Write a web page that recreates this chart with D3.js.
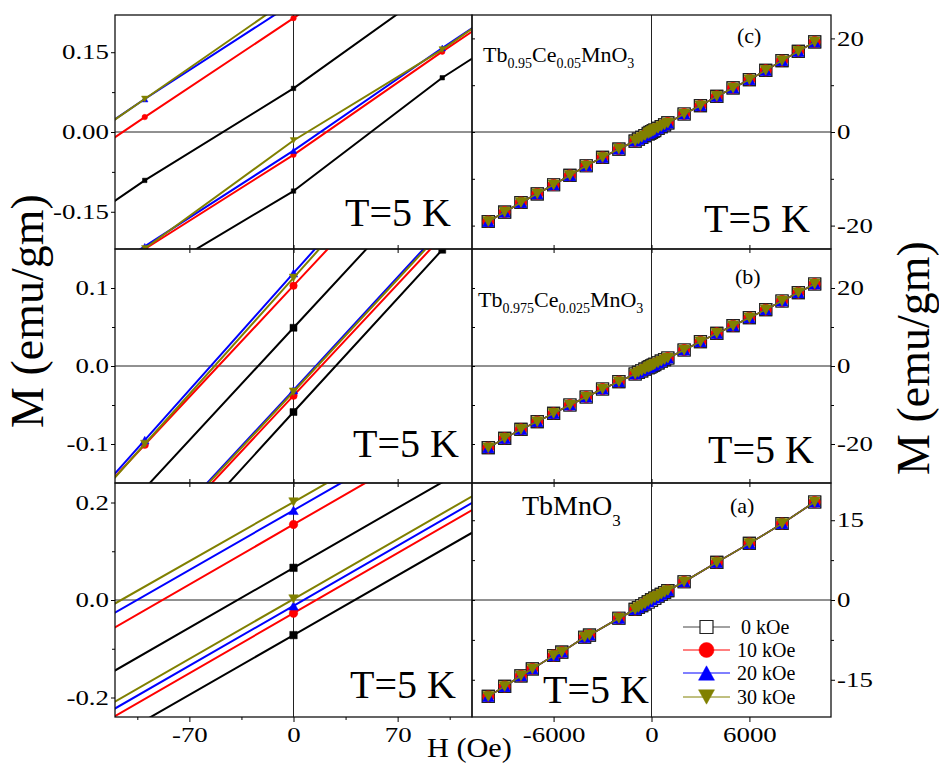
<!DOCTYPE html>
<html><head><meta charset="utf-8">
<script src="https://cdn.jsdelivr.net/npm/d3@7"></script>
<style>
body{margin:0;background:#fff;}
</style></head><body>
<svg id="chart" width="939" height="763" font-family="Liberation Serif"></svg>
<script>
// ---------- data ----------
const fields = ["0 kOe","10 kOe","20 kOe","30 kOe"];
const colors = ["#000000","#ff0000","#0000ff","#808000"];
const shapes = ["square","circle","triUp","triDown"];

// panel (c): Tb0.95Ce0.05MnO3  (outer = high/mid field points shared by both branches)
const c_outH = [-10000,-9000,-8000,-7000,-6000,-5000,-4000,-3000,-2000,-1000,-800,-600,-400,400,600,800,1000,2000,3000,4000,5000,6000,7000,8000,9000,10000];
const c_outM = [-19.12,-17.11,-15.06,-13.20,-11.27,-9.28,-7.21,-5.43,-3.64,-1.93,-1.54,-1.16,-0.77,0.77,1.16,1.54,1.93,3.85,5.63,7.62,9.41,11.19,13.18,15.25,17.24,19.25];
const c_loH = [-200,-100,0,100,200];
const c_up = [
  [-0.282,-0.091,0.082,0.282,0.480],
  [-0.162,0.028,0.214,0.410,0.600],
  [-0.128,0.062,0.243,0.440,0.630],
  [-0.130,0.062,0.256,0.450,0.640]];
const c_dn = [
  [-0.450,-0.278,-0.111,0.102,0.282],
  [-0.400,-0.220,-0.043,0.151,0.340],
  [-0.395,-0.215,-0.035,0.158,0.345],
  [-0.400,-0.219,-0.016,0.155,0.350]];

// panel (b): Tb0.975Ce0.025MnO3
const b_outH = [-10000,-9000,-8000,-7000,-6000,-5000,-4000,-3000,-2000,-1000,-800,-600,-400,400,600,800,1000,2000,3000,4000,5000,6000,7000,8000,9000,10000];
const b_outM = [-20.94,-18.55,-16.24,-14.27,-12.14,-10.00,-7.95,-5.90,-4.02,-2.05,-1.64,-1.23,-0.82,0.82,1.23,1.64,2.05,4.10,6.23,8.38,10.33,12.38,14.44,16.67,18.80,21.03];
const b_loH = [-200,-100,0,100,200];
const b_up = [
  [-0.360,-0.157,0.049,0.255,0.460],
  [-0.305,-0.101,0.103,0.307,0.510],
  [-0.309,-0.095,0.119,0.333,0.547],
  [-0.314,-0.100,0.113,0.326,0.540]];
const b_dn = [
  [-0.478,-0.268,-0.059,0.149,0.356],
  [-0.446,-0.242,-0.038,0.166,0.370],
  [-0.440,-0.236,-0.031,0.176,0.383],
  [-0.442,-0.238,-0.033,0.173,0.380]];

// panel (a): TbMnO3
const a_outH = [-10000,-9000,-8000,-7300,-6000,-5500,-4100,-3800,-2000,-1000,-800,-600,-400,400,600,800,1000,2000,4000,6000,8000,10000];
const a_outM = [-18.13,-16.26,-14.25,-12.94,-10.44,-9.81,-7.00,-6.60,-3.43,-1.78,-1.41,-1.06,-0.71,0.71,1.06,1.41,1.78,3.43,7.07,10.63,14.38,18.43];
const a_loH = [-200,0,200];
const a_up = [
  [-0.285,0.066,0.417],
  [-0.197,0.155,0.507],
  [-0.166,0.184,0.534],
  [-0.146,0.201,0.548]];
const a_dn = [
  [-0.422,-0.072,0.278],
  [-0.379,-0.027,0.325],
  [-0.363,-0.012,0.340],
  [-0.349,0.002,0.353]];

// axis ticks
const xLeftTicks = [-70,0,70];
const xLeftMinor = [-105,-35,35,105];
const xRightTicks = [-6000,0,6000];
const yLeftTicks_c = [-0.15,0,0.15], yLeftMinor_c = [-0.075,0.075];
const yLeftTicks_b = [-0.1,0,0.1],   yLeftMinor_b = [-0.05,0.05];
const yLeftTicks_a = [-0.2,0,0.2],   yLeftMinor_a = [-0.1,0.1];
const yRightTicks_c = [-20,0,20], yRightMinor_c = [-10,10];
const yRightTicks_b = [-20,0,20], yRightMinor_b = [-10,10];
const yRightTicks_a = [-15,0,15], yRightMinor_a = [-7.5,7.5];

// ---------- layout ----------
const FONT = "'Liberation Serif','Times New Roman',serif";
const svg = d3.select("#chart");
const rowTop = [15,249,483], rowH = 234;
const LX = [115,472], RX = [472,831];
const SX = 1.28; // horizontal stretch of tick labels
const xL = d3.scaleLinear().domain([-120,120]).range(LX);
const xR = d3.scaleLinear().domain([-11000,11000]).range(RX);

const panels = [
  {name:"c", outH:c_outH, outM:c_outM, loH:c_loH, up:c_up, dn:c_dn, yLdom:[-0.22,0.22], yRdom:[-25,25],
   yLt:yLeftTicks_c, yLm:yLeftMinor_c, yLf:v=>v.toFixed(2), yRt:yRightTicks_c, yRm:yRightMinor_c,
   msL:[4.5,5.5,6.5,6.5]},
  {name:"b", outH:b_outH, outM:b_outM, loH:b_loH, up:b_up, dn:b_dn, yLdom:[-0.15,0.15], yRdom:[-30,30],
   yLt:yLeftTicks_b, yLm:yLeftMinor_b, yLf:v=>v.toFixed(1), yRt:yRightTicks_b, yRm:yRightMinor_b,
   msL:[7,7.5,8.5,8.5]},
  {name:"a", outH:a_outH, outM:a_outM, loH:a_loH, up:a_up, dn:a_dn, yLdom:[-0.24,0.24], yRdom:[-22,22],
   yLt:yLeftTicks_a, yLm:yLeftMinor_a, yLf:v=>v.toFixed(1), yRt:yRightTicks_a, yRm:yRightMinor_a,
   msL:[7.5,8.5,9.5,9.5]}
];

function symPath(shape, s){
  const h = s/2;
  if(shape==="square") return `M${-h},${-h}H${h}V${h}H${-h}Z`;
  if(shape==="circle") return `M${h},0A${h},${h} 0 1,1 ${-h},0A${h},${h} 0 1,1 ${h},0Z`;
  const t = s*0.9;
  if(shape==="triUp") return `M0,${-t/2}L${h},${t/2}L${-h},${t/2}Z`;
  return `M0,${t/2}L${h},${-t/2}L${-h},${-t/2}Z`;
}

function loopPts(d,k){
  const lo0 = d.loH[0], lo1 = d.loH[d.loH.length-1];
  const out = d.outH.map((h,i)=>[h,d.outM[i]]);
  const neg = out.filter(p=>p[0]<lo0), pos = out.filter(p=>p[0]>lo1);
  const up = d.loH.map((h,i)=>[h,d.up[k][i]]);
  const dn = d.loH.map((h,i)=>[h,d.dn[k][i]]);
  return [...pos.slice().reverse(), ...up.slice().reverse(), ...neg.slice().reverse(),
          ...neg, ...dn, ...pos];
}

function stretchText(sel){
  sel.each(function(){
    const t = d3.select(this);
    const x = +(t.attr("x")||0);
    t.attr("transform",`translate(${x},0) scale(${SX},1) translate(${-x},0)`);
  });
}

function styleAxis(g){
  g.attr("font-family",null).attr("font-size",null);
  g.select(".domain").remove();
  g.selectAll("line").attr("stroke","#000").attr("stroke-width",1);
  g.selectAll("text").attr("font-size",21);
}

const defs = svg.append("defs");

panels.forEach((d,row)=>{
  const y0 = rowTop[row], y1 = y0+rowH;
  const yL = d3.scaleLinear().domain(d.yLdom).range([y1,y0]);
  const yR = d3.scaleLinear().domain(d.yRdom).range([y1,y0]);
  [["L",xL,yL,LX],["R",xR,yR,RX]].forEach(([side,x,y,X])=>{
    const cid = `clip${d.name}${side}`;
    defs.append("clipPath").attr("id",cid).append("rect")
      .attr("x",X[0]).attr("y",y0).attr("width",X[1]-X[0]).attr("height",rowH);
    const g = svg.append("g");
    g.append("line").attr("x1",x(0)).attr("x2",x(0)).attr("y1",y0).attr("y2",y1)
      .attr("stroke","#222").attr("stroke-width",1);
    g.append("line").attr("x1",X[0]).attr("x2",X[1]).attr("y1",y(0)).attr("y2",y(0))
      .attr("stroke","#222").attr("stroke-width",1);
    const gg = g.append("g").attr("clip-path",`url(#${cid})`);
    const line = d3.line().x(p=>x(p[0])).y(p=>y(p[1]));
    for(let k=0;k<4;k++){
      const pts = loopPts(d,k);
      gg.append("path").attr("d",line(pts)).attr("fill","none")
        .attr("stroke",colors[k]).attr("stroke-width",side==="L"?2:1.5)
        .attr("stroke-linejoin","round");
      const size = side==="L" ? d.msL[k] : [12,11,11,10.5][k];
      gg.append("g").selectAll("path").data(pts).join("path")
        .attr("transform",p=>`translate(${x(p[0])},${y(p[1])})`)
        .attr("d",symPath(shapes[k],size))
        .attr("fill", (k===0 && side==="R") ? "#fff" : colors[k])
        .attr("stroke", (k===0 && side==="R") ? "#222" : colors[k])
        .attr("stroke-width", (k===0 && side==="R") ? 1.2 : 0.5);
    }
    g.append("rect").attr("x",X[0]).attr("y",y0).attr("width",X[1]-X[0]).attr("height",rowH)
      .attr("fill","none").attr("stroke","#111").attr("stroke-width",1.3);
  });

  const gyl = svg.append("g").attr("transform",`translate(${LX[0]},0)`)
    .call(d3.axisLeft(yL).tickValues(d.yLt).tickFormat(d.yLf).tickSize(4).tickPadding(2));
  styleAxis(gyl); stretchText(gyl.selectAll("text"));
  const gylm = svg.append("g").attr("transform",`translate(${LX[0]},0)`)
    .call(d3.axisLeft(yL).tickValues(d.yLm).tickFormat("").tickSize(3));
  styleAxis(gylm); gylm.selectAll("text").remove();
  const gyr = svg.append("g").attr("transform",`translate(${RX[1]},0)`)
    .call(d3.axisRight(yR).tickValues(d.yRt).tickFormat(v=>String(v)).tickSize(4).tickPadding(2));
  styleAxis(gyr); stretchText(gyr.selectAll("text"));
  const gyrm = svg.append("g").attr("transform",`translate(${RX[1]},0)`)
    .call(d3.axisRight(yR).tickValues(d.yRm).tickFormat("").tickSize(3));
  styleAxis(gyrm); gyrm.selectAll("text").remove();
  const gyri = svg.append("g").attr("transform",`translate(${RX[0]},0)`)
    .call(d3.axisRight(yR).tickValues(d.yRt.concat(d.yRm)).tickFormat("").tickSize(3));
  styleAxis(gyri); gyri.selectAll("text").remove();

  if(row<2){
    [[xL,xLeftTicks],[xR,xRightTicks]].forEach(([x,tv])=>{
      const gb = svg.append("g").attr("transform",`translate(0,${y1})`)
        .call(d3.axisBottom(x).tickValues(tv).tickFormat("").tickSize(4));
      styleAxis(gb); gb.selectAll("text").remove();
      const gt = svg.append("g").attr("transform",`translate(0,${y1})`)
        .call(d3.axisTop(x).tickValues(tv).tickFormat("").tickSize(4));
      styleAxis(gt); gt.selectAll("text").remove();
    });
  } else {
    const gxl = svg.append("g").attr("transform",`translate(0,${y1})`)
      .call(d3.axisBottom(xL).tickValues(xLeftTicks).tickFormat(v=>String(v)).tickSize(5).tickPadding(5));
    styleAxis(gxl); stretchText(gxl.selectAll("text"));
    const gxlm = svg.append("g").attr("transform",`translate(0,${y1})`)
      .call(d3.axisBottom(xL).tickValues(xLeftMinor).tickFormat("").tickSize(3));
    styleAxis(gxlm); gxlm.selectAll("text").remove();
    const gxr = svg.append("g").attr("transform",`translate(0,${y1})`)
      .call(d3.axisBottom(xR).tickValues(xRightTicks).tickFormat(v=>String(v)).tickSize(5).tickPadding(5));
    styleAxis(gxr); stretchText(gxr.selectAll("text"));
  }
});

// ---------- texts ----------
const tPos = [[345,226],[353,457],[350,698],[704,232],[708,463],[543,703]];
tPos.forEach(([x,y])=>svg.append("text").attr("x",x).attr("y",y).attr("font-size",40).text("T=5 K"));

function formula(x,y,parts,big,small,dy){
  const t = svg.append("text").attr("x",x).attr("y",y).attr("font-size",big);
  let cur = 0;
  parts.forEach(([s,sub])=>{
    const want = sub?dy:0;
    t.append("tspan").attr("font-size",sub?small:big).attr("dy",want-cur).text(s);
    cur = want;
  });
}
formula(483,62,[["Tb",0],["0.95",1],["Ce",0],["0.05",1],["MnO",0],["3",1]],22,14,6);
formula(478,307,[["Tb",0],["0.975",1],["Ce",0],["0.025",1],["MnO",0],["3",1]],22,14,6);
formula(522,515,[["TbMnO",0],["3",1]],28,17,11);

[["(c)",737,43],["(b)",735,284],["(a)",730,513]].forEach(([s,x,y])=>
  svg.append("text").attr("x",x).attr("y",y).attr("font-size",22).text(s));

svg.append("text").attr("transform","translate(43,311) rotate(-90)")
  .attr("text-anchor","middle").attr("font-size",46).text("M (emu/gm)");
svg.append("text").attr("transform","translate(929,358) rotate(-90)")
  .attr("text-anchor","middle").attr("font-size",46).text("M (emu/gm)");
svg.append("text").attr("transform","translate(427,757) scale(1.08,1)")
  .attr("font-size",28).text("H (Oe)");

// ---------- legend ----------
const legY = [627,650,673,697];
const legTX = [741,737,737,737];
const legSize = [13,15,16,16];
fields.forEach((f,k)=>{
  const g = svg.append("g");
  g.append("line").attr("x1",683).attr("x2",730).attr("y1",legY[k]).attr("y2",legY[k])
    .attr("stroke",k===0?"#444":colors[k]).attr("stroke-width",1);
  g.append("path").attr("transform",`translate(706.5,${legY[k]})`)
    .attr("d",symPath(shapes[k],legSize[k]))
    .attr("fill",k===0?"#fff":colors[k]).attr("stroke",k===0?"#222":colors[k]).attr("stroke-width",k===0?1.2:0.5);
  g.append("text").attr("x",legTX[k]).attr("y",legY[k]+7).attr("font-size",20).text(f);
});

svg.selectAll("text").style("font-family",FONT).style("fill","#000");
</script>
</body></html>
